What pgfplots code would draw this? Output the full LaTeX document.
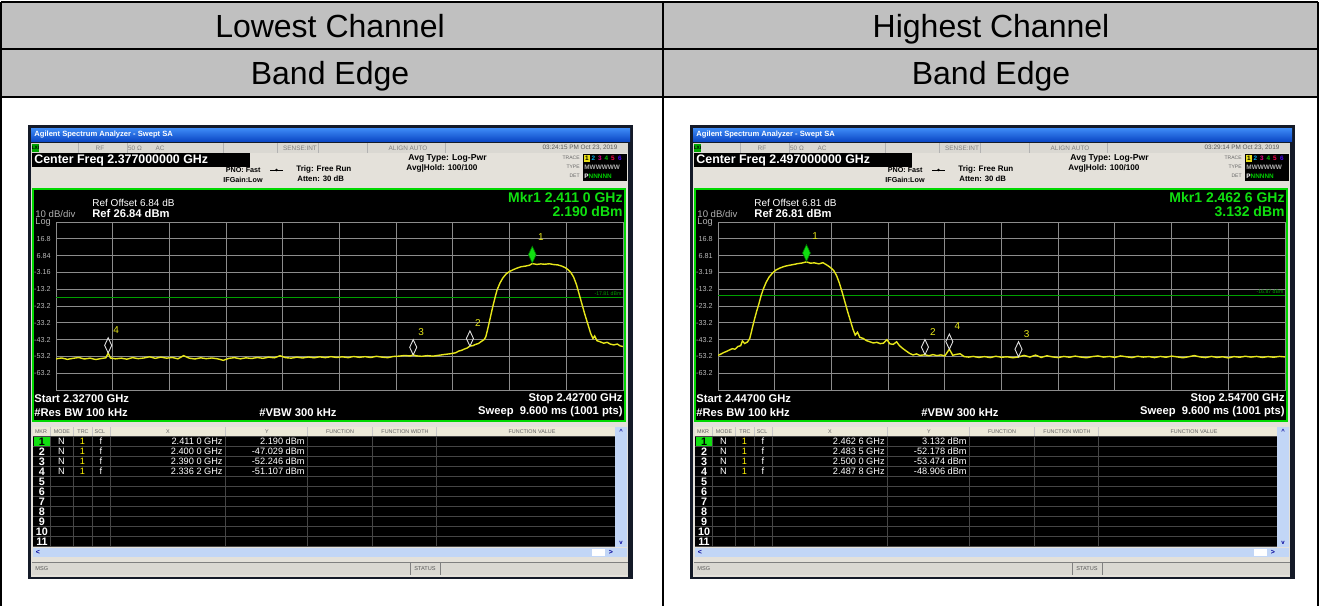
\documentclass[border=0pt]{standalone}
\usepackage{pgfplots}
\pgfplotsset{compat=1.18}
\usepackage{fontspec}
\setmainfont{Liberation Sans}
\definecolor{hdrgray}{HTML}{C0C0C0}
\definecolor{winframe}{HTML}{141A28}
\definecolor{titleA}{HTML}{3F8CF7}
\definecolor{titleB}{HTML}{0A46C4}
\definecolor{panel}{HTML}{E4E1DA}
\definecolor{statrow}{HTML}{DAD8D2}
\definecolor{scrgreen}{HTML}{00D800}
\definecolor{dline}{HTML}{00A000}
\definecolor{trace}{HTML}{E6E61A}
\definecolor{gridc}{HTML}{8C8C8C}
\definecolor{tblhead}{HTML}{ECE9D8}
\definecolor{scrollb}{HTML}{C2D6F6}
\definecolor{mkrgreen}{HTML}{10E010}
\newcommand\fs[1]{\fontsize{#1}{#1}\selectfont}
% #1 center freq, #2 date, #3 ref offset, #4 ref, #5 mkr freq, #6 mkr value, #7 start, #8 stop
\newcommand\chrome[8]{%
 \fill[winframe] (-2,0) rectangle (603,454);
 \shade[top color=titleA, bottom color=titleB] (1,3) rectangle (600,16.5);
 \node[anchor=west,text=white,font=\bfseries\fs{3.8},inner sep=0pt] at (4,10) {Agilent Spectrum Analyzer - Swept SA};
 \fill[statrow] (1,17.5) rectangle (598,28);
 \fill[green!65!black] (2,18.5) rectangle (9,27);
 \node[font=\bfseries\fs{2.4},inner sep=0pt] at (5.5,22.8) {LXI};
 \foreach \sx in {48,97,193,247,288,337,415}{\draw[gray!60,line width=0.3pt] (\sx,18)--(\sx,27.5);}
 \node[font=\fs{3.2},text=gray,inner sep=0pt] at (70,23) {RF};
 \node[font=\fs{3.2},text=gray,inner sep=0pt] at (105,23) {50 Ω};
 \node[font=\fs{3.2},text=gray,inner sep=0pt] at (130,23) {AC};
 \node[font=\fs{3.2},text=gray,inner sep=0pt] at (270,23) {SENSE:INT};
 \node[font=\fs{3.2},text=gray,inner sep=0pt] at (378,23) {ALIGN AUTO};
 \node[font=\fs{3.2},text=gray!70!black,inner sep=0pt] at (550,23) {#2};
 \fill[panel] (1,28) rectangle (598,62.5);
 \fill[black] (2,28.3) rectangle (220,41.7);
 \node[anchor=west,text=white,font=\bfseries\fs{6.2},inner sep=0pt] at (4,35) {#1};
 \node[anchor=east,font=\bfseries\fs{3.6},inner sep=0pt] at (231,45) {PNO: Fast};
 \node[anchor=east,font=\bfseries\fs{3.6},inner sep=0pt] at (233,55) {IFGain:Low};
 \draw[line width=0.4pt] (240,45)--(253,45);
 \fill (246.5,45) circle (1.3);
 \node[anchor=west,font=\bfseries\fs{4},inner sep=0pt] at (266,44) {Trig: Free Run};
 \node[anchor=west,font=\bfseries\fs{3.9},inner sep=0pt] at (267,54) {Atten: 30 dB};
 \node[anchor=west,font=\bfseries\fs{4.3},inner sep=0pt] at (378,33) {Avg Type: Log-Pwr};
 \node[anchor=west,font=\bfseries\fs{4.1},inner sep=0pt] at (376,43) {Avg|Hold: 100/100};
 \node[anchor=east,font=\fs{2.5},text=gray!80!black,inner sep=0pt] at (550,33) {TRACE};
 \node[anchor=east,font=\fs{2.5},text=gray!80!black,inner sep=0pt] at (550,42) {TYPE};
 \node[anchor=east,font=\fs{2.5},text=gray!80!black,inner sep=0pt] at (550,51) {DET};
 \fill[black] (553,29) rectangle (597,56);
 \fill[yellow!90!black] (554,29.5) rectangle (560,36.5);
 \node[font=\bfseries\fs{3.2},inner sep=0pt] at (557,33) {1};
 \node[font=\bfseries\fs{3.2},text=cyan,inner sep=0pt] at (563.5,33) {2};
 \node[font=\bfseries\fs{3.2},text=magenta,inner sep=0pt] at (570,33) {3};
 \node[font=\bfseries\fs{3.2},text=green!70!black,inner sep=0pt] at (576.5,33) {4};
 \node[font=\bfseries\fs{3.2},text=red!70!magenta,inner sep=0pt] at (583,33) {5};
 \node[font=\bfseries\fs{3.2},text=blue!70!magenta,inner sep=0pt] at (590,33) {6};
 \node[anchor=west,font=\bfseries\fs{3.2},text=gray!60,inner sep=0pt] at (554,42) {MWWWWW};
 \node[anchor=west,font=\bfseries\fs{3.2},text=green!80!black,inner sep=0pt] at (554,51) {\textcolor{white}{P}NNNNN};
 % main screen
 \fill[panel] (1,62.5) rectangle (598,452);
 \fill[black] (2,62.7) rectangle (596,297);
 \draw[scrgreen,line width=0.9pt] (2.9,63.6) rectangle (595,296);
 \node[anchor=west,text=white,font=\fs{5},inner sep=0pt] at (62,78) {#3};
 \node[anchor=west,text=white,font=\bfseries\fs{5.6},inner sep=0pt] at (62,88.5) {#4};
 \node[anchor=west,text=gray!60,font=\fs{4.8},inner sep=0pt] at (5,89) {10 dB/div};
 \node[anchor=west,text=gray!60,font=\fs{4.6},inner sep=0pt] at (5,97.5) {Log};
 \node[anchor=east,text=mkrgreen,font=\bfseries\fs{7},inner sep=0pt] at (593,72.5) {#5};
 \node[anchor=east,text=mkrgreen,font=\bfseries\fs{7},inner sep=0pt] at (593,86) {#6};
 \node[anchor=west,text=white,font=\bfseries\fs{5.6},inner sep=0pt] at (4,273.5) {#7};
 \node[anchor=west,text=white,font=\bfseries\fs{5.6},inner sep=0pt] at (4,287) {\#Res BW 100 kHz};
 \node[text=white,font=\bfseries\fs{5.6},inner sep=0pt] at (268,287) {\#VBW 300 kHz};
 \node[anchor=east,text=white,font=\bfseries\fs{5.6},inner sep=0pt] at (593,273.5) {#8};
 \node[anchor=east,text=white,font=\bfseries\fs{5.6},inner sep=0pt] at (593,287) {Sweep\ \ 9.600 ms (1001 pts)};
 % marker table
 \fill[tblhead] (3,301.5) rectangle (585,311);
 \foreach \sx in {20,43,62,80,195,277,342,406}{\draw[gray!45,line width=0.3pt] (\sx,302)--(\sx,311);}
 \foreach \tx/\tl in {11/MKR,32/MODE,53/TRC,70/SCL,138/X,237/Y,310/FUNCTION,375/FUNCTION WIDTH,502/FUNCTION VALUE}{%
   \node[font=\fs{2.7},text=gray!75!black,inner sep=0pt] at (\tx,306.5) {\tl};}
 \fill[black] (3,311) rectangle (585,422);
 \foreach \k in {0,...,11}{\draw[gray!55!black,line width=0.35pt] (3,311+10.06*\k)--(585,311+10.06*\k);}
 \foreach \sx in {20,43,62,80,195,277,342,406}{\draw[gray!55!black,line width=0.35pt] (\sx,311)--(\sx,422);}
 \fill[mkrgreen] (3.5,311.5) rectangle (19.5,320.6);
 \node[font=\bfseries\fs{5.4},inner sep=0pt] at (12,316.3) {1};
 \foreach \k in {2,...,11}{\node[font=\bfseries\fs{5.4},text=white,inner sep=0pt] at (12,306.3+10.06*\k) {\k};}
 \fill[scrollb] (585,302) rectangle (597,422);
 \node[font=\bfseries\fs{3},text=blue!60!black,inner sep=0pt] at (591,306) {\^{}};
 \node[font=\bfseries\fs{3},text=blue!60!black,inner sep=0pt] at (591,418) {v};
 \fill[scrollb] (3,422.5) rectangle (597,432);
 \fill[white] (562,423.5) rectangle (575,431);
 \node[font=\bfseries\fs{3.5},text=blue!60!black,inner sep=0pt] at (8,427.2) {<};
 \node[font=\bfseries\fs{3.5},text=blue!60!black,inner sep=0pt] at (581,427.2) {>};
 \fill[statrow] (2,437) rectangle (598,450);
 \draw[gray,line width=0.3pt] (2,437)--(598,437) (380,437)--(380,450) (410,437)--(410,450);
 \node[anchor=west,font=\fs{2.8},text=gray!70!black,inner sep=0pt] at (5,443.5) {MSG};
 \node[font=\fs{2.8},text=gray!70!black,inner sep=0pt] at (395,443.5) {STATUS};
}
% #1 row, #2 x, #3 y
\newcommand\mrow[3]{%
 \node[font=\fs{4.6},text=white,inner sep=0pt] at (31.5,306.3+10.06*#1) {N};
 \node[font=\fs{4.6},text=yellow,inner sep=0pt] at (52.5,306.3+10.06*#1) {1};
 \node[font=\fs{4.6},text=white,inner sep=0pt] at (71,306.3+10.06*#1) {f};
 \node[anchor=east,font=\fs{4.6},text=white,inner sep=0pt] at (193,306.3+10.06*#1) {#2};
 \node[anchor=east,font=\fs{4.6},text=white,inner sep=0pt] at (275,306.3+10.06*#1) {#3};
}
\pgfplotsset{sa/.style={
  scale only axis, width=283.5pt, height=84pt, anchor=south west,
  axis line style={gridc,line width=0.5pt},
  grid=major, major grid style={gridc,line width=0.5pt},
  major tick length=0pt, xticklabels={},
  yticklabel style={font=\fs{3.6},text=gray!55,inner sep=0pt,xshift=-2.5pt},
  clip=true,
 },
 mk/.style={only marks, mark=diamond, mark size=3.8pt, draw=gray!25, line width=0.45pt,
  mark options={yshift=3.8pt,xscale=0.62,fill=black},
  nodes near coords, point meta=explicit symbolic,
  nodes near coords style={anchor=south west,font=\fs{5},text=trace,inner sep=0pt,xshift=2.4pt,yshift=5.8pt}},
 mk1/.style={only marks, mark=diamond*, mark size=4.2pt, draw=green!45!black, fill=mkrgreen, line width=0.3pt,
  mark options={yshift=4.4pt,xscale=0.62},
  nodes near coords, point meta=explicit symbolic,
  nodes near coords style={anchor=south west,font=\fs{5},text=trace,inner sep=0pt,xshift=2.8pt,yshift=6.8pt}}
}
\begin{document}
\begin{tikzpicture}[x=0.5pt,y=-0.5pt]
\path[use as bounding box] (0,0) rectangle (1320,606);
\fill[white] (0,0) rectangle (1320,606);
\fill[hdrgray] (1,2) rectangle (1318,97);
\draw[line width=0.6pt] (1,2)--(1318,2) (1,49)--(1318,49) (1,97)--(1318,97) (1,2)--(1,606) (663,2)--(663,606) (1318,2)--(1318,606);
\node[anchor=base,font=\fs{16},inner sep=0pt] at (330,37) {Lowest Channel};
\node[anchor=base,font=\fs{16},inner sep=0pt] at (330,84) {Band Edge};
\node[anchor=base,font=\fs{16},inner sep=0pt] at (991,37) {Highest Channel};
\node[anchor=base,font=\fs{16},inner sep=0pt] at (991,84) {Band Edge};

\begin{scope}[shift={(30,125)}]
\chrome{Center Freq 2.377000000 GHz}{03:24:15 PM Oct 23, 2019}{Ref Offset 6.84 dB}{Ref 26.84 dBm}{Mkr1 2.411 0 GHz}{2.190 dBm}{Start 2.32700 GHz}{Stop 2.42700 GHz}
\mrow{1}{2.411 0 GHz}{2.190 dBm}
\mrow{2}{2.400 0 GHz}{-47.029 dBm}
\mrow{3}{2.390 0 GHz}{-52.246 dBm}
\mrow{4}{2.336 2 GHz}{-51.107 dBm}
\coordinate (GL) at (26,265);
\end{scope}

\begin{scope}[shift={(692,125)}]
\chrome{Center Freq 2.497000000 GHz}{03:29:14 PM Oct 23, 2019}{Ref Offset 6.81 dB}{Ref 26.81 dBm}{Mkr1 2.462 6 GHz}{3.132 dBm}{Start 2.44700 GHz}{Stop 2.54700 GHz}
\mrow{1}{2.462 6 GHz}{3.132 dBm}
\mrow{2}{2.483 5 GHz}{-52.178 dBm}
\mrow{3}{2.500 0 GHz}{-53.474 dBm}
\mrow{4}{2.487 8 GHz}{-48.906 dBm}
\coordinate (GR) at (26,265);
\end{scope}

\begin{axis}[sa, at={(GL)}, xmin=2327, xmax=2427, ymin=-73.16, ymax=26.84,
  xtick={2327,2337,...,2427},
  ytick={-73.16,-63.16,-53.16,-43.16,-33.16,-23.16,-13.16,-3.16,6.84,16.84,26.84},
  yticklabels={,-63.2,-53.2,-43.2,-33.2,-23.2,-13.2,-3.16,6.84,16.8,}]
\addplot[dline,line width=0.5pt] coordinates {(2327,-17.81) (2427,-17.81)};
\node[anchor=south east,font=\fs{2.6},text=dline,inner sep=0.6pt] at (axis cs:2427,-17.81) {-17.81 dBm};
\addplot[trace,line width=0.7pt] coordinates {
(2327,-54.6) (2328,-54.1) (2329,-54.9) (2330,-54.3) (2331,-53.8) (2332,-54.7) (2333,-54.2) (2334,-55.0) (2335,-54.4) (2335.8,-54.0) (2336.2,-51.1) (2336.6,-54.1)
(2337.5,-54.6) (2338.5,-54.2) (2339.5,-54.8) (2340.5,-53.9) (2341.5,-54.5) (2342.5,-54.1) (2343.5,-53.4) (2344.5,-54.3) (2345.5,-53.6) (2346.5,-54.2) (2347.5,-53.8) (2348.5,-54.6)
(2349.5,-52.7) (2350.5,-54.2) (2351.5,-54.7) (2352.5,-54.0) (2353.5,-54.5) (2354.5,-54.1) (2355.5,-54.6) (2356.5,-55.5) (2357.5,-54.3) (2358.5,-53.9) (2359.5,-54.6) (2360.5,-54.0)
(2361.5,-54.4) (2362.5,-53.8) (2363.5,-54.3) (2364.5,-53.6) (2365.5,-54.0) (2366.5,-52.8) (2367.5,-53.9) (2368.5,-54.2) (2369.5,-53.6) (2370.5,-54.1) (2371.5,-53.5) (2372.5,-54.0)
(2373.5,-53.4) (2374.5,-53.9) (2375.5,-53.3) (2376.5,-53.8) (2377.5,-53.4) (2378.5,-53.9) (2379.5,-53.2) (2380.5,-53.7) (2381.5,-53.3) (2382.5,-53.8) (2383.5,-53.1) (2384.5,-53.6)
(2385.5,-53.9) (2386.5,-53.2) (2387.5,-53.0) (2388.5,-52.6) (2389.5,-52.9) (2390.0,-52.2) (2390.5,-52.8) (2391.5,-53.1) (2392.5,-52.7) (2393.5,-53.0) (2394.5,-52.5) (2395.5,-52.0)
(2396.5,-51.6) (2397.5,-51.0) (2398.0,-50.0) (2398.5,-49.6) (2399.0,-48.8) (2399.5,-48.2) (2400.0,-47.0) (2400.5,-46.8) (2401.0,-46.0) (2401.5,-45.5) (2402.0,-44.3) (2402.5,-43.2)
(2402.8,-41.5) (2403.2,-36.0) (2403.6,-30.0) (2404.0,-24.0) (2404.4,-18.5) (2404.8,-13.5) (2405.3,-9.5) (2405.8,-6.5) (2406.4,-4.0) (2407.0,-2.6) (2407.6,-1.6) (2408.3,-0.6)
(2409.0,0.2) (2409.8,0.6) (2410.5,1.1) (2411.0,2.1) (2411.8,1.6) (2412.5,1.9) (2413.2,1.7) (2414.0,2.0) (2414.8,1.5) (2415.5,1.3) (2416.2,0.6) (2416.8,-0.3)
(2417.3,-1.5) (2417.8,-3.2) (2418.3,-6.0) (2418.8,-10.5) (2419.3,-16.5) (2419.8,-22.5) (2420.3,-28.5) (2420.8,-34.0) (2421.3,-39.5) (2421.7,-42.5) (2422.0,-41.0) (2422.4,-43.8)
(2423.0,-44.5) (2423.6,-45.3) (2424.2,-44.8) (2424.8,-45.9) (2425.4,-46.3) (2426.0,-45.8) (2426.5,-46.9) (2427.0,-47.3)};
\addplot[mk] coordinates {(2400.0,-47.03) [2] (2390.0,-52.25) [3] (2336.2,-51.11) [4]};
\addplot[mk1] coordinates {(2411.0,2.19) [1]};
\end{axis}

\begin{axis}[sa, at={(GR)}, xmin=2447, xmax=2547, ymin=-73.19, ymax=26.81,
  xtick={2447,2457,...,2547},
  ytick={-73.19,-63.19,-53.19,-43.19,-33.19,-23.19,-13.19,-3.19,6.81,16.81,26.81},
  yticklabels={,-63.2,-53.2,-43.2,-33.2,-23.2,-13.2,-3.19,6.81,16.8,}]
\addplot[dline,line width=0.5pt] coordinates {(2447,-16.87) (2547,-16.87)};
\node[anchor=south east,font=\fs{2.6},text=dline,inner sep=0.6pt] at (axis cs:2547,-16.87) {-16.87 dBm};
\addplot[trace,line width=0.7pt] coordinates {
(2447.0,-52.6) (2447.5,-51.8) (2448.0,-50.9) (2448.5,-50.2) (2449.0,-49.4) (2449.5,-48.6) (2450.0,-48.9) (2450.5,-47.3) (2451.0,-46.8) (2451.3,-44.0) (2451.7,-45.5) (2452.2,-44.6)
(2452.6,-42.5) (2453.0,-37.0) (2453.4,-31.5) (2453.8,-26.5) (2454.2,-22.0) (2454.6,-17.0) (2455.0,-13.0) (2455.5,-9.0) (2456.0,-6.0) (2456.6,-3.6) (2457.2,-1.8) (2457.9,-0.6)
(2458.7,0.4) (2459.5,1.0) (2460.3,1.5) (2461.0,2.0) (2461.8,2.4) (2462.6,3.1) (2463.3,2.3) (2464.0,2.5) (2464.8,1.9) (2465.5,2.6) (2466.2,1.2) (2466.8,-0.2)
(2467.4,-2.0) (2467.9,-5.0) (2468.4,-9.5) (2468.9,-15.0) (2469.4,-21.0) (2469.9,-27.0) (2470.4,-32.5) (2470.8,-37.0) (2471.2,-40.5) (2471.6,-38.8) (2472.0,-41.8) (2472.6,-42.5)
(2473.2,-43.8) (2473.8,-44.5) (2474.4,-45.2) (2475.0,-44.8) (2475.6,-45.6) (2476.2,-45.3) (2476.8,-43.2) (2477.3,-45.7) (2477.9,-46.0) (2478.5,-44.5) (2479.0,-46.8) (2479.6,-48.5)
(2480.2,-50.0) (2480.8,-51.4) (2481.4,-52.3) (2482.0,-51.7) (2482.6,-52.6) (2483.5,-52.2) (2484.2,-52.8) (2484.9,-52.1) (2485.6,-52.7) (2486.3,-52.3) (2487.0,-52.9) (2487.8,-48.9)
(2488.4,-52.5) (2489.0,-52.0) (2489.7,-51.6) (2490.4,-53.3) (2491.2,-53.6) (2492,-53.2) (2493,-53.8) (2494,-53.3) (2495,-53.9) (2496,-53.1) (2497,-53.7) (2498,-53.4)
(2499,-54.0) (2500,-53.5) (2501,-52.6) (2502,-53.6) (2503,-52.4) (2504,-53.8) (2505,-52.8) (2506,-53.5) (2507,-53.9) (2508,-53.2) (2509,-53.7) (2510,-53.0)
(2511,-53.6) (2512,-54.0) (2513,-53.3) (2514,-52.9) (2515,-53.6) (2516,-53.2) (2517,-53.8) (2518,-52.9) (2519,-53.4) (2520,-53.9) (2521,-53.1) (2522,-53.6)
(2523,-53.3) (2524,-53.9) (2525,-53.2) (2526,-53.7) (2527,-53.0) (2528,-53.5) (2529,-54.0) (2530,-53.4) (2531,-52.7) (2532,-53.5) (2533,-53.9) (2534,-53.2)
(2535,-53.8) (2536,-53.4) (2537,-54.1) (2538,-53.3) (2539,-53.7) (2540,-53.1) (2541,-53.6) (2542,-53.2) (2543,-53.8) (2544,-53.3) (2545,-53.7) (2546,-53.2) (2547,-53.5)};
\addplot[mk] coordinates {(2483.5,-52.18) [2] (2500.0,-53.47) [3] (2487.8,-48.91) [4]};
\addplot[mk1] coordinates {(2462.6,3.13) [1]};
\end{axis}
\end{tikzpicture}
\end{document}
